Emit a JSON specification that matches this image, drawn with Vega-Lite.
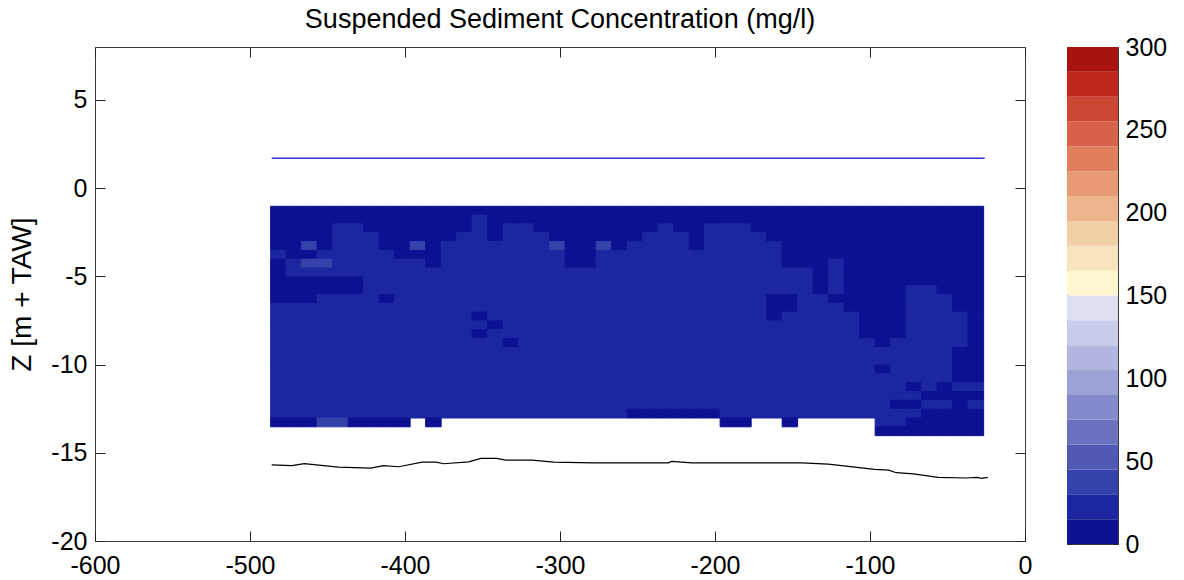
{
"$schema":"https://vega.github.io/schema/vega-lite/v6.json",
"autosize":{"type":"pad"},
"padding":{"left":8,"top":5,"right":0,"bottom":0},
"background":"white",
"spacing":33,
"config":{
 "font":"Liberation Sans",
 "view":{"stroke":"#3c3c3c","strokeWidth":1},
 "axis":{"labelFont":"Liberation Sans","labelFontSize":25,"labelColor":"#000","labelFlush":false,"tickColor":"#222","domain":false,"grid":false,"zindex":1,"titleFont":"Liberation Sans","titleFontWeight":"normal","titleColor":"#000"}
},
"datasets":{
"surf":[{"x":-486,"z":1.7},{"x":-26,"z":1.7}],
"bed":[{"x":-486,"z":-15.68},{"x":-473,"z":-15.73},{"x":-465,"z":-15.62},{"x":-443,"z":-15.81},{"x":-422,"z":-15.87},{"x":-414,"z":-15.73},{"x":-404,"z":-15.79},{"x":-389,"z":-15.53},{"x":-380,"z":-15.53},{"x":-375,"z":-15.62},{"x":-359,"z":-15.51},{"x":-351,"z":-15.32},{"x":-341,"z":-15.32},{"x":-335,"z":-15.42},{"x":-318,"z":-15.42},{"x":-304,"z":-15.53},{"x":-278,"z":-15.57},{"x":-230,"z":-15.57},{"x":-228,"z":-15.49},{"x":-215,"z":-15.57},{"x":-144,"z":-15.57},{"x":-127,"z":-15.64},{"x":-114,"z":-15.77},{"x":-97,"z":-15.94},{"x":-88,"z":-15.98},{"x":-83,"z":-16.13},{"x":-72,"z":-16.19},{"x":-56,"z":-16.39},{"x":-38,"z":-16.43},{"x":-31,"z":-16.39},{"x":-28,"z":-16.45},{"x":-24,"z":-16.39}],
"bar":[{"lo":0,"hi":15,"c":7.5},{"lo":15,"hi":30,"c":22.5},{"lo":30,"hi":45,"c":37.5},{"lo":45,"hi":60,"c":52.5},{"lo":60,"hi":75,"c":67.5},{"lo":75,"hi":90,"c":82.5},{"lo":90,"hi":105,"c":97.5},{"lo":105,"hi":120,"c":112.5},{"lo":120,"hi":135,"c":127.5},{"lo":135,"hi":150,"c":142.5},{"lo":150,"hi":165,"c":157.5},{"lo":165,"hi":180,"c":172.5},{"lo":180,"hi":195,"c":187.5},{"lo":195,"hi":210,"c":202.5},{"lo":210,"hi":225,"c":217.5},{"lo":225,"hi":240,"c":232.5},{"lo":240,"hi":255,"c":247.5},{"lo":255,"hi":270,"c":262.5},{"lo":270,"hi":285,"c":277.5},{"lo":285,"hi":300,"c":292.5}],
"grid":[
{"x":-487,"z":-1.5,"v":8},{"x":-487,"z":-2,"v":8},{"x":-487,"z":-2.5,"v":8},{"x":-487,"z":-3,"v":8},{"x":-487,"z":-3.5,"v":8},{"x":-487,"z":-4,"v":22},{"x":-487,"z":-4.5,"v":8},{"x":-487,"z":-5,"v":8},{"x":-487,"z":-5.5,"v":8},{"x":-487,"z":-6,"v":8},{"x":-487,"z":-6.5,"v":8},{"x":-487,"z":-7,"v":22},{"x":-487,"z":-7.5,"v":22},{"x":-487,"z":-8,"v":22},{"x":-487,"z":-8.5,"v":22},{"x":-487,"z":-9,"v":22},{"x":-487,"z":-9.5,"v":22},{"x":-487,"z":-10,"v":22},{"x":-487,"z":-10.5,"v":22},{"x":-487,"z":-11,"v":22},{"x":-487,"z":-11.5,"v":22},{"x":-487,"z":-12,"v":22},{"x":-487,"z":-12.5,"v":22},{"x":-487,"z":-13,"v":22},{"x":-487,"z":-13.5,"v":8},
{"x":-477,"z":-1.5,"v":8},{"x":-477,"z":-2,"v":8},{"x":-477,"z":-2.5,"v":8},{"x":-477,"z":-3,"v":8},{"x":-477,"z":-3.5,"v":8},{"x":-477,"z":-4,"v":8},{"x":-477,"z":-4.5,"v":22},{"x":-477,"z":-5,"v":22},{"x":-477,"z":-5.5,"v":8},{"x":-477,"z":-6,"v":8},{"x":-477,"z":-6.5,"v":8},{"x":-477,"z":-7,"v":22},{"x":-477,"z":-7.5,"v":22},{"x":-477,"z":-8,"v":22},{"x":-477,"z":-8.5,"v":22},{"x":-477,"z":-9,"v":22},{"x":-477,"z":-9.5,"v":22},{"x":-477,"z":-10,"v":22},{"x":-477,"z":-10.5,"v":22},{"x":-477,"z":-11,"v":22},{"x":-477,"z":-11.5,"v":22},{"x":-477,"z":-12,"v":22},{"x":-477,"z":-12.5,"v":22},{"x":-477,"z":-13,"v":22},{"x":-477,"z":-13.5,"v":8},
{"x":-467,"z":-1.5,"v":8},{"x":-467,"z":-2,"v":8},{"x":-467,"z":-2.5,"v":8},{"x":-467,"z":-3,"v":8},{"x":-467,"z":-3.5,"v":35},{"x":-467,"z":-4,"v":8},{"x":-467,"z":-4.5,"v":35},{"x":-467,"z":-5,"v":22},{"x":-467,"z":-5.5,"v":8},{"x":-467,"z":-6,"v":8},{"x":-467,"z":-6.5,"v":8},{"x":-467,"z":-7,"v":22},{"x":-467,"z":-7.5,"v":22},{"x":-467,"z":-8,"v":22},{"x":-467,"z":-8.5,"v":22},{"x":-467,"z":-9,"v":22},{"x":-467,"z":-9.5,"v":22},{"x":-467,"z":-10,"v":22},{"x":-467,"z":-10.5,"v":22},{"x":-467,"z":-11,"v":22},{"x":-467,"z":-11.5,"v":22},{"x":-467,"z":-12,"v":22},{"x":-467,"z":-12.5,"v":22},{"x":-467,"z":-13,"v":22},{"x":-467,"z":-13.5,"v":8},
{"x":-457,"z":-1.5,"v":8},{"x":-457,"z":-2,"v":8},{"x":-457,"z":-2.5,"v":8},{"x":-457,"z":-3,"v":8},{"x":-457,"z":-3.5,"v":8},{"x":-457,"z":-4,"v":22},{"x":-457,"z":-4.5,"v":35},{"x":-457,"z":-5,"v":22},{"x":-457,"z":-5.5,"v":8},{"x":-457,"z":-6,"v":8},{"x":-457,"z":-6.5,"v":22},{"x":-457,"z":-7,"v":22},{"x":-457,"z":-7.5,"v":22},{"x":-457,"z":-8,"v":22},{"x":-457,"z":-8.5,"v":22},{"x":-457,"z":-9,"v":22},{"x":-457,"z":-9.5,"v":22},{"x":-457,"z":-10,"v":22},{"x":-457,"z":-10.5,"v":22},{"x":-457,"z":-11,"v":22},{"x":-457,"z":-11.5,"v":22},{"x":-457,"z":-12,"v":22},{"x":-457,"z":-12.5,"v":22},{"x":-457,"z":-13,"v":22},{"x":-457,"z":-13.5,"v":35},
{"x":-447,"z":-1.5,"v":8},{"x":-447,"z":-2,"v":8},{"x":-447,"z":-2.5,"v":22},{"x":-447,"z":-3,"v":22},{"x":-447,"z":-3.5,"v":22},{"x":-447,"z":-4,"v":22},{"x":-447,"z":-4.5,"v":22},{"x":-447,"z":-5,"v":22},{"x":-447,"z":-5.5,"v":8},{"x":-447,"z":-6,"v":8},{"x":-447,"z":-6.5,"v":22},{"x":-447,"z":-7,"v":22},{"x":-447,"z":-7.5,"v":22},{"x":-447,"z":-8,"v":22},{"x":-447,"z":-8.5,"v":22},{"x":-447,"z":-9,"v":22},{"x":-447,"z":-9.5,"v":22},{"x":-447,"z":-10,"v":22},{"x":-447,"z":-10.5,"v":22},{"x":-447,"z":-11,"v":22},{"x":-447,"z":-11.5,"v":22},{"x":-447,"z":-12,"v":22},{"x":-447,"z":-12.5,"v":22},{"x":-447,"z":-13,"v":22},{"x":-447,"z":-13.5,"v":35},
{"x":-437,"z":-1.5,"v":8},{"x":-437,"z":-2,"v":8},{"x":-437,"z":-2.5,"v":22},{"x":-437,"z":-3,"v":22},{"x":-437,"z":-3.5,"v":22},{"x":-437,"z":-4,"v":22},{"x":-437,"z":-4.5,"v":22},{"x":-437,"z":-5,"v":22},{"x":-437,"z":-5.5,"v":8},{"x":-437,"z":-6,"v":8},{"x":-437,"z":-6.5,"v":22},{"x":-437,"z":-7,"v":22},{"x":-437,"z":-7.5,"v":22},{"x":-437,"z":-8,"v":22},{"x":-437,"z":-8.5,"v":22},{"x":-437,"z":-9,"v":22},{"x":-437,"z":-9.5,"v":22},{"x":-437,"z":-10,"v":22},{"x":-437,"z":-10.5,"v":22},{"x":-437,"z":-11,"v":22},{"x":-437,"z":-11.5,"v":22},{"x":-437,"z":-12,"v":22},{"x":-437,"z":-12.5,"v":22},{"x":-437,"z":-13,"v":22},{"x":-437,"z":-13.5,"v":8},
{"x":-427,"z":-1.5,"v":8},{"x":-427,"z":-2,"v":8},{"x":-427,"z":-2.5,"v":8},{"x":-427,"z":-3,"v":22},{"x":-427,"z":-3.5,"v":22},{"x":-427,"z":-4,"v":22},{"x":-427,"z":-4.5,"v":22},{"x":-427,"z":-5,"v":22},{"x":-427,"z":-5.5,"v":22},{"x":-427,"z":-6,"v":22},{"x":-427,"z":-6.5,"v":22},{"x":-427,"z":-7,"v":22},{"x":-427,"z":-7.5,"v":22},{"x":-427,"z":-8,"v":22},{"x":-427,"z":-8.5,"v":22},{"x":-427,"z":-9,"v":22},{"x":-427,"z":-9.5,"v":22},{"x":-427,"z":-10,"v":22},{"x":-427,"z":-10.5,"v":22},{"x":-427,"z":-11,"v":22},{"x":-427,"z":-11.5,"v":22},{"x":-427,"z":-12,"v":22},{"x":-427,"z":-12.5,"v":22},{"x":-427,"z":-13,"v":22},{"x":-427,"z":-13.5,"v":8},
{"x":-417,"z":-1.5,"v":8},{"x":-417,"z":-2,"v":8},{"x":-417,"z":-2.5,"v":8},{"x":-417,"z":-3,"v":8},{"x":-417,"z":-3.5,"v":8},{"x":-417,"z":-4,"v":22},{"x":-417,"z":-4.5,"v":22},{"x":-417,"z":-5,"v":22},{"x":-417,"z":-5.5,"v":22},{"x":-417,"z":-6,"v":22},{"x":-417,"z":-6.5,"v":8},{"x":-417,"z":-7,"v":22},{"x":-417,"z":-7.5,"v":22},{"x":-417,"z":-8,"v":22},{"x":-417,"z":-8.5,"v":22},{"x":-417,"z":-9,"v":22},{"x":-417,"z":-9.5,"v":22},{"x":-417,"z":-10,"v":22},{"x":-417,"z":-10.5,"v":22},{"x":-417,"z":-11,"v":22},{"x":-417,"z":-11.5,"v":22},{"x":-417,"z":-12,"v":22},{"x":-417,"z":-12.5,"v":22},{"x":-417,"z":-13,"v":22},{"x":-417,"z":-13.5,"v":8},
{"x":-407,"z":-1.5,"v":8},{"x":-407,"z":-2,"v":8},{"x":-407,"z":-2.5,"v":8},{"x":-407,"z":-3,"v":8},{"x":-407,"z":-3.5,"v":8},{"x":-407,"z":-4,"v":8},{"x":-407,"z":-4.5,"v":22},{"x":-407,"z":-5,"v":22},{"x":-407,"z":-5.5,"v":22},{"x":-407,"z":-6,"v":22},{"x":-407,"z":-6.5,"v":22},{"x":-407,"z":-7,"v":22},{"x":-407,"z":-7.5,"v":22},{"x":-407,"z":-8,"v":22},{"x":-407,"z":-8.5,"v":22},{"x":-407,"z":-9,"v":22},{"x":-407,"z":-9.5,"v":22},{"x":-407,"z":-10,"v":22},{"x":-407,"z":-10.5,"v":22},{"x":-407,"z":-11,"v":22},{"x":-407,"z":-11.5,"v":22},{"x":-407,"z":-12,"v":22},{"x":-407,"z":-12.5,"v":22},{"x":-407,"z":-13,"v":22},{"x":-407,"z":-13.5,"v":8},
{"x":-397,"z":-1.5,"v":8},{"x":-397,"z":-2,"v":8},{"x":-397,"z":-2.5,"v":8},{"x":-397,"z":-3,"v":8},{"x":-397,"z":-3.5,"v":35},{"x":-397,"z":-4,"v":8},{"x":-397,"z":-4.5,"v":22},{"x":-397,"z":-5,"v":22},{"x":-397,"z":-5.5,"v":22},{"x":-397,"z":-6,"v":22},{"x":-397,"z":-6.5,"v":22},{"x":-397,"z":-7,"v":22},{"x":-397,"z":-7.5,"v":22},{"x":-397,"z":-8,"v":22},{"x":-397,"z":-8.5,"v":22},{"x":-397,"z":-9,"v":22},{"x":-397,"z":-9.5,"v":22},{"x":-397,"z":-10,"v":22},{"x":-397,"z":-10.5,"v":22},{"x":-397,"z":-11,"v":22},{"x":-397,"z":-11.5,"v":22},{"x":-397,"z":-12,"v":22},{"x":-397,"z":-12.5,"v":22},{"x":-397,"z":-13,"v":22},
{"x":-387,"z":-1.5,"v":8},{"x":-387,"z":-2,"v":8},{"x":-387,"z":-2.5,"v":8},{"x":-387,"z":-3,"v":8},{"x":-387,"z":-3.5,"v":8},{"x":-387,"z":-4,"v":8},{"x":-387,"z":-4.5,"v":8},{"x":-387,"z":-5,"v":22},{"x":-387,"z":-5.5,"v":22},{"x":-387,"z":-6,"v":22},{"x":-387,"z":-6.5,"v":22},{"x":-387,"z":-7,"v":22},{"x":-387,"z":-7.5,"v":22},{"x":-387,"z":-8,"v":22},{"x":-387,"z":-8.5,"v":22},{"x":-387,"z":-9,"v":22},{"x":-387,"z":-9.5,"v":22},{"x":-387,"z":-10,"v":22},{"x":-387,"z":-10.5,"v":22},{"x":-387,"z":-11,"v":22},{"x":-387,"z":-11.5,"v":22},{"x":-387,"z":-12,"v":22},{"x":-387,"z":-12.5,"v":22},{"x":-387,"z":-13,"v":22},{"x":-387,"z":-13.5,"v":8},
{"x":-377,"z":-1.5,"v":8},{"x":-377,"z":-2,"v":8},{"x":-377,"z":-2.5,"v":8},{"x":-377,"z":-3,"v":8},{"x":-377,"z":-3.5,"v":22},{"x":-377,"z":-4,"v":22},{"x":-377,"z":-4.5,"v":22},{"x":-377,"z":-5,"v":22},{"x":-377,"z":-5.5,"v":22},{"x":-377,"z":-6,"v":22},{"x":-377,"z":-6.5,"v":22},{"x":-377,"z":-7,"v":22},{"x":-377,"z":-7.5,"v":22},{"x":-377,"z":-8,"v":22},{"x":-377,"z":-8.5,"v":22},{"x":-377,"z":-9,"v":22},{"x":-377,"z":-9.5,"v":22},{"x":-377,"z":-10,"v":22},{"x":-377,"z":-10.5,"v":22},{"x":-377,"z":-11,"v":22},{"x":-377,"z":-11.5,"v":22},{"x":-377,"z":-12,"v":22},{"x":-377,"z":-12.5,"v":22},{"x":-377,"z":-13,"v":22},
{"x":-367,"z":-1.5,"v":8},{"x":-367,"z":-2,"v":8},{"x":-367,"z":-2.5,"v":8},{"x":-367,"z":-3,"v":22},{"x":-367,"z":-3.5,"v":22},{"x":-367,"z":-4,"v":22},{"x":-367,"z":-4.5,"v":22},{"x":-367,"z":-5,"v":22},{"x":-367,"z":-5.5,"v":22},{"x":-367,"z":-6,"v":22},{"x":-367,"z":-6.5,"v":22},{"x":-367,"z":-7,"v":22},{"x":-367,"z":-7.5,"v":22},{"x":-367,"z":-8,"v":22},{"x":-367,"z":-8.5,"v":22},{"x":-367,"z":-9,"v":22},{"x":-367,"z":-9.5,"v":22},{"x":-367,"z":-10,"v":22},{"x":-367,"z":-10.5,"v":22},{"x":-367,"z":-11,"v":22},{"x":-367,"z":-11.5,"v":22},{"x":-367,"z":-12,"v":22},{"x":-367,"z":-12.5,"v":22},{"x":-367,"z":-13,"v":22},
{"x":-357,"z":-1.5,"v":8},{"x":-357,"z":-2,"v":22},{"x":-357,"z":-2.5,"v":22},{"x":-357,"z":-3,"v":22},{"x":-357,"z":-3.5,"v":22},{"x":-357,"z":-4,"v":22},{"x":-357,"z":-4.5,"v":22},{"x":-357,"z":-5,"v":22},{"x":-357,"z":-5.5,"v":22},{"x":-357,"z":-6,"v":22},{"x":-357,"z":-6.5,"v":22},{"x":-357,"z":-7,"v":22},{"x":-357,"z":-7.5,"v":8},{"x":-357,"z":-8,"v":22},{"x":-357,"z":-8.5,"v":8},{"x":-357,"z":-9,"v":22},{"x":-357,"z":-9.5,"v":22},{"x":-357,"z":-10,"v":22},{"x":-357,"z":-10.5,"v":22},{"x":-357,"z":-11,"v":22},{"x":-357,"z":-11.5,"v":22},{"x":-357,"z":-12,"v":22},{"x":-357,"z":-12.5,"v":22},{"x":-357,"z":-13,"v":22},
{"x":-347,"z":-1.5,"v":8},{"x":-347,"z":-2,"v":8},{"x":-347,"z":-2.5,"v":8},{"x":-347,"z":-3,"v":8},{"x":-347,"z":-3.5,"v":22},{"x":-347,"z":-4,"v":22},{"x":-347,"z":-4.5,"v":22},{"x":-347,"z":-5,"v":22},{"x":-347,"z":-5.5,"v":22},{"x":-347,"z":-6,"v":22},{"x":-347,"z":-6.5,"v":22},{"x":-347,"z":-7,"v":22},{"x":-347,"z":-7.5,"v":22},{"x":-347,"z":-8,"v":8},{"x":-347,"z":-8.5,"v":22},{"x":-347,"z":-9,"v":22},{"x":-347,"z":-9.5,"v":22},{"x":-347,"z":-10,"v":22},{"x":-347,"z":-10.5,"v":22},{"x":-347,"z":-11,"v":22},{"x":-347,"z":-11.5,"v":22},{"x":-347,"z":-12,"v":22},{"x":-347,"z":-12.5,"v":22},{"x":-347,"z":-13,"v":22},
{"x":-337,"z":-1.5,"v":8},{"x":-337,"z":-2,"v":8},{"x":-337,"z":-2.5,"v":22},{"x":-337,"z":-3,"v":22},{"x":-337,"z":-3.5,"v":22},{"x":-337,"z":-4,"v":22},{"x":-337,"z":-4.5,"v":22},{"x":-337,"z":-5,"v":22},{"x":-337,"z":-5.5,"v":22},{"x":-337,"z":-6,"v":22},{"x":-337,"z":-6.5,"v":22},{"x":-337,"z":-7,"v":22},{"x":-337,"z":-7.5,"v":22},{"x":-337,"z":-8,"v":22},{"x":-337,"z":-8.5,"v":22},{"x":-337,"z":-9,"v":8},{"x":-337,"z":-9.5,"v":22},{"x":-337,"z":-10,"v":22},{"x":-337,"z":-10.5,"v":22},{"x":-337,"z":-11,"v":22},{"x":-337,"z":-11.5,"v":22},{"x":-337,"z":-12,"v":22},{"x":-337,"z":-12.5,"v":22},{"x":-337,"z":-13,"v":22},
{"x":-327,"z":-1.5,"v":8},{"x":-327,"z":-2,"v":8},{"x":-327,"z":-2.5,"v":22},{"x":-327,"z":-3,"v":22},{"x":-327,"z":-3.5,"v":22},{"x":-327,"z":-4,"v":22},{"x":-327,"z":-4.5,"v":22},{"x":-327,"z":-5,"v":22},{"x":-327,"z":-5.5,"v":22},{"x":-327,"z":-6,"v":22},{"x":-327,"z":-6.5,"v":22},{"x":-327,"z":-7,"v":22},{"x":-327,"z":-7.5,"v":22},{"x":-327,"z":-8,"v":22},{"x":-327,"z":-8.5,"v":22},{"x":-327,"z":-9,"v":22},{"x":-327,"z":-9.5,"v":22},{"x":-327,"z":-10,"v":22},{"x":-327,"z":-10.5,"v":22},{"x":-327,"z":-11,"v":22},{"x":-327,"z":-11.5,"v":22},{"x":-327,"z":-12,"v":22},{"x":-327,"z":-12.5,"v":22},{"x":-327,"z":-13,"v":22},
{"x":-317,"z":-1.5,"v":8},{"x":-317,"z":-2,"v":8},{"x":-317,"z":-2.5,"v":8},{"x":-317,"z":-3,"v":22},{"x":-317,"z":-3.5,"v":22},{"x":-317,"z":-4,"v":22},{"x":-317,"z":-4.5,"v":22},{"x":-317,"z":-5,"v":22},{"x":-317,"z":-5.5,"v":22},{"x":-317,"z":-6,"v":22},{"x":-317,"z":-6.5,"v":22},{"x":-317,"z":-7,"v":22},{"x":-317,"z":-7.5,"v":22},{"x":-317,"z":-8,"v":22},{"x":-317,"z":-8.5,"v":22},{"x":-317,"z":-9,"v":22},{"x":-317,"z":-9.5,"v":22},{"x":-317,"z":-10,"v":22},{"x":-317,"z":-10.5,"v":22},{"x":-317,"z":-11,"v":22},{"x":-317,"z":-11.5,"v":22},{"x":-317,"z":-12,"v":22},{"x":-317,"z":-12.5,"v":22},{"x":-317,"z":-13,"v":22},
{"x":-307,"z":-1.5,"v":8},{"x":-307,"z":-2,"v":8},{"x":-307,"z":-2.5,"v":8},{"x":-307,"z":-3,"v":8},{"x":-307,"z":-3.5,"v":35},{"x":-307,"z":-4,"v":22},{"x":-307,"z":-4.5,"v":22},{"x":-307,"z":-5,"v":22},{"x":-307,"z":-5.5,"v":22},{"x":-307,"z":-6,"v":22},{"x":-307,"z":-6.5,"v":22},{"x":-307,"z":-7,"v":22},{"x":-307,"z":-7.5,"v":22},{"x":-307,"z":-8,"v":22},{"x":-307,"z":-8.5,"v":22},{"x":-307,"z":-9,"v":22},{"x":-307,"z":-9.5,"v":22},{"x":-307,"z":-10,"v":22},{"x":-307,"z":-10.5,"v":22},{"x":-307,"z":-11,"v":22},{"x":-307,"z":-11.5,"v":22},{"x":-307,"z":-12,"v":22},{"x":-307,"z":-12.5,"v":22},{"x":-307,"z":-13,"v":22},
{"x":-297,"z":-1.5,"v":8},{"x":-297,"z":-2,"v":8},{"x":-297,"z":-2.5,"v":8},{"x":-297,"z":-3,"v":8},{"x":-297,"z":-3.5,"v":8},{"x":-297,"z":-4,"v":8},{"x":-297,"z":-4.5,"v":8},{"x":-297,"z":-5,"v":22},{"x":-297,"z":-5.5,"v":22},{"x":-297,"z":-6,"v":22},{"x":-297,"z":-6.5,"v":22},{"x":-297,"z":-7,"v":22},{"x":-297,"z":-7.5,"v":22},{"x":-297,"z":-8,"v":22},{"x":-297,"z":-8.5,"v":22},{"x":-297,"z":-9,"v":22},{"x":-297,"z":-9.5,"v":22},{"x":-297,"z":-10,"v":22},{"x":-297,"z":-10.5,"v":22},{"x":-297,"z":-11,"v":22},{"x":-297,"z":-11.5,"v":22},{"x":-297,"z":-12,"v":22},{"x":-297,"z":-12.5,"v":22},{"x":-297,"z":-13,"v":22},
{"x":-287,"z":-1.5,"v":8},{"x":-287,"z":-2,"v":8},{"x":-287,"z":-2.5,"v":8},{"x":-287,"z":-3,"v":8},{"x":-287,"z":-3.5,"v":8},{"x":-287,"z":-4,"v":8},{"x":-287,"z":-4.5,"v":8},{"x":-287,"z":-5,"v":22},{"x":-287,"z":-5.5,"v":22},{"x":-287,"z":-6,"v":22},{"x":-287,"z":-6.5,"v":22},{"x":-287,"z":-7,"v":22},{"x":-287,"z":-7.5,"v":22},{"x":-287,"z":-8,"v":22},{"x":-287,"z":-8.5,"v":22},{"x":-287,"z":-9,"v":22},{"x":-287,"z":-9.5,"v":22},{"x":-287,"z":-10,"v":22},{"x":-287,"z":-10.5,"v":22},{"x":-287,"z":-11,"v":22},{"x":-287,"z":-11.5,"v":22},{"x":-287,"z":-12,"v":22},{"x":-287,"z":-12.5,"v":22},{"x":-287,"z":-13,"v":22},
{"x":-277,"z":-1.5,"v":8},{"x":-277,"z":-2,"v":8},{"x":-277,"z":-2.5,"v":8},{"x":-277,"z":-3,"v":8},{"x":-277,"z":-3.5,"v":35},{"x":-277,"z":-4,"v":22},{"x":-277,"z":-4.5,"v":22},{"x":-277,"z":-5,"v":22},{"x":-277,"z":-5.5,"v":22},{"x":-277,"z":-6,"v":22},{"x":-277,"z":-6.5,"v":22},{"x":-277,"z":-7,"v":22},{"x":-277,"z":-7.5,"v":22},{"x":-277,"z":-8,"v":22},{"x":-277,"z":-8.5,"v":22},{"x":-277,"z":-9,"v":22},{"x":-277,"z":-9.5,"v":22},{"x":-277,"z":-10,"v":22},{"x":-277,"z":-10.5,"v":22},{"x":-277,"z":-11,"v":22},{"x":-277,"z":-11.5,"v":22},{"x":-277,"z":-12,"v":22},{"x":-277,"z":-12.5,"v":22},{"x":-277,"z":-13,"v":22},
{"x":-267,"z":-1.5,"v":8},{"x":-267,"z":-2,"v":8},{"x":-267,"z":-2.5,"v":8},{"x":-267,"z":-3,"v":8},{"x":-267,"z":-3.5,"v":8},{"x":-267,"z":-4,"v":22},{"x":-267,"z":-4.5,"v":22},{"x":-267,"z":-5,"v":22},{"x":-267,"z":-5.5,"v":22},{"x":-267,"z":-6,"v":22},{"x":-267,"z":-6.5,"v":22},{"x":-267,"z":-7,"v":22},{"x":-267,"z":-7.5,"v":22},{"x":-267,"z":-8,"v":22},{"x":-267,"z":-8.5,"v":22},{"x":-267,"z":-9,"v":22},{"x":-267,"z":-9.5,"v":22},{"x":-267,"z":-10,"v":22},{"x":-267,"z":-10.5,"v":22},{"x":-267,"z":-11,"v":22},{"x":-267,"z":-11.5,"v":22},{"x":-267,"z":-12,"v":22},{"x":-267,"z":-12.5,"v":22},{"x":-267,"z":-13,"v":22},
{"x":-257,"z":-1.5,"v":8},{"x":-257,"z":-2,"v":8},{"x":-257,"z":-2.5,"v":8},{"x":-257,"z":-3,"v":8},{"x":-257,"z":-3.5,"v":22},{"x":-257,"z":-4,"v":22},{"x":-257,"z":-4.5,"v":22},{"x":-257,"z":-5,"v":22},{"x":-257,"z":-5.5,"v":22},{"x":-257,"z":-6,"v":22},{"x":-257,"z":-6.5,"v":22},{"x":-257,"z":-7,"v":22},{"x":-257,"z":-7.5,"v":22},{"x":-257,"z":-8,"v":22},{"x":-257,"z":-8.5,"v":22},{"x":-257,"z":-9,"v":22},{"x":-257,"z":-9.5,"v":22},{"x":-257,"z":-10,"v":22},{"x":-257,"z":-10.5,"v":22},{"x":-257,"z":-11,"v":22},{"x":-257,"z":-11.5,"v":22},{"x":-257,"z":-12,"v":22},{"x":-257,"z":-12.5,"v":22},{"x":-257,"z":-13,"v":8},
{"x":-247,"z":-1.5,"v":8},{"x":-247,"z":-2,"v":8},{"x":-247,"z":-2.5,"v":8},{"x":-247,"z":-3,"v":22},{"x":-247,"z":-3.5,"v":22},{"x":-247,"z":-4,"v":22},{"x":-247,"z":-4.5,"v":22},{"x":-247,"z":-5,"v":22},{"x":-247,"z":-5.5,"v":22},{"x":-247,"z":-6,"v":22},{"x":-247,"z":-6.5,"v":22},{"x":-247,"z":-7,"v":22},{"x":-247,"z":-7.5,"v":22},{"x":-247,"z":-8,"v":22},{"x":-247,"z":-8.5,"v":22},{"x":-247,"z":-9,"v":22},{"x":-247,"z":-9.5,"v":22},{"x":-247,"z":-10,"v":22},{"x":-247,"z":-10.5,"v":22},{"x":-247,"z":-11,"v":22},{"x":-247,"z":-11.5,"v":22},{"x":-247,"z":-12,"v":22},{"x":-247,"z":-12.5,"v":22},{"x":-247,"z":-13,"v":8},
{"x":-237,"z":-1.5,"v":8},{"x":-237,"z":-2,"v":8},{"x":-237,"z":-2.5,"v":22},{"x":-237,"z":-3,"v":22},{"x":-237,"z":-3.5,"v":22},{"x":-237,"z":-4,"v":22},{"x":-237,"z":-4.5,"v":22},{"x":-237,"z":-5,"v":22},{"x":-237,"z":-5.5,"v":22},{"x":-237,"z":-6,"v":22},{"x":-237,"z":-6.5,"v":22},{"x":-237,"z":-7,"v":22},{"x":-237,"z":-7.5,"v":22},{"x":-237,"z":-8,"v":22},{"x":-237,"z":-8.5,"v":22},{"x":-237,"z":-9,"v":22},{"x":-237,"z":-9.5,"v":22},{"x":-237,"z":-10,"v":22},{"x":-237,"z":-10.5,"v":22},{"x":-237,"z":-11,"v":22},{"x":-237,"z":-11.5,"v":22},{"x":-237,"z":-12,"v":22},{"x":-237,"z":-12.5,"v":22},{"x":-237,"z":-13,"v":8},
{"x":-227,"z":-1.5,"v":8},{"x":-227,"z":-2,"v":8},{"x":-227,"z":-2.5,"v":8},{"x":-227,"z":-3,"v":22},{"x":-227,"z":-3.5,"v":22},{"x":-227,"z":-4,"v":22},{"x":-227,"z":-4.5,"v":22},{"x":-227,"z":-5,"v":22},{"x":-227,"z":-5.5,"v":22},{"x":-227,"z":-6,"v":22},{"x":-227,"z":-6.5,"v":22},{"x":-227,"z":-7,"v":22},{"x":-227,"z":-7.5,"v":22},{"x":-227,"z":-8,"v":22},{"x":-227,"z":-8.5,"v":22},{"x":-227,"z":-9,"v":22},{"x":-227,"z":-9.5,"v":22},{"x":-227,"z":-10,"v":22},{"x":-227,"z":-10.5,"v":22},{"x":-227,"z":-11,"v":22},{"x":-227,"z":-11.5,"v":22},{"x":-227,"z":-12,"v":22},{"x":-227,"z":-12.5,"v":22},{"x":-227,"z":-13,"v":8},
{"x":-217,"z":-1.5,"v":8},{"x":-217,"z":-2,"v":8},{"x":-217,"z":-2.5,"v":8},{"x":-217,"z":-3,"v":8},{"x":-217,"z":-3.5,"v":8},{"x":-217,"z":-4,"v":22},{"x":-217,"z":-4.5,"v":22},{"x":-217,"z":-5,"v":22},{"x":-217,"z":-5.5,"v":22},{"x":-217,"z":-6,"v":22},{"x":-217,"z":-6.5,"v":22},{"x":-217,"z":-7,"v":22},{"x":-217,"z":-7.5,"v":22},{"x":-217,"z":-8,"v":22},{"x":-217,"z":-8.5,"v":22},{"x":-217,"z":-9,"v":22},{"x":-217,"z":-9.5,"v":22},{"x":-217,"z":-10,"v":22},{"x":-217,"z":-10.5,"v":22},{"x":-217,"z":-11,"v":22},{"x":-217,"z":-11.5,"v":22},{"x":-217,"z":-12,"v":22},{"x":-217,"z":-12.5,"v":22},{"x":-217,"z":-13,"v":8},
{"x":-207,"z":-1.5,"v":8},{"x":-207,"z":-2,"v":8},{"x":-207,"z":-2.5,"v":22},{"x":-207,"z":-3,"v":22},{"x":-207,"z":-3.5,"v":22},{"x":-207,"z":-4,"v":22},{"x":-207,"z":-4.5,"v":22},{"x":-207,"z":-5,"v":22},{"x":-207,"z":-5.5,"v":22},{"x":-207,"z":-6,"v":22},{"x":-207,"z":-6.5,"v":22},{"x":-207,"z":-7,"v":22},{"x":-207,"z":-7.5,"v":22},{"x":-207,"z":-8,"v":22},{"x":-207,"z":-8.5,"v":22},{"x":-207,"z":-9,"v":22},{"x":-207,"z":-9.5,"v":22},{"x":-207,"z":-10,"v":22},{"x":-207,"z":-10.5,"v":22},{"x":-207,"z":-11,"v":22},{"x":-207,"z":-11.5,"v":22},{"x":-207,"z":-12,"v":22},{"x":-207,"z":-12.5,"v":22},{"x":-207,"z":-13,"v":8},
{"x":-197,"z":-1.5,"v":8},{"x":-197,"z":-2,"v":8},{"x":-197,"z":-2.5,"v":22},{"x":-197,"z":-3,"v":22},{"x":-197,"z":-3.5,"v":22},{"x":-197,"z":-4,"v":22},{"x":-197,"z":-4.5,"v":22},{"x":-197,"z":-5,"v":22},{"x":-197,"z":-5.5,"v":22},{"x":-197,"z":-6,"v":22},{"x":-197,"z":-6.5,"v":22},{"x":-197,"z":-7,"v":22},{"x":-197,"z":-7.5,"v":22},{"x":-197,"z":-8,"v":22},{"x":-197,"z":-8.5,"v":22},{"x":-197,"z":-9,"v":22},{"x":-197,"z":-9.5,"v":22},{"x":-197,"z":-10,"v":22},{"x":-197,"z":-10.5,"v":22},{"x":-197,"z":-11,"v":22},{"x":-197,"z":-11.5,"v":22},{"x":-197,"z":-12,"v":22},{"x":-197,"z":-12.5,"v":22},{"x":-197,"z":-13,"v":22},{"x":-197,"z":-13.5,"v":8},
{"x":-187,"z":-1.5,"v":8},{"x":-187,"z":-2,"v":8},{"x":-187,"z":-2.5,"v":22},{"x":-187,"z":-3,"v":22},{"x":-187,"z":-3.5,"v":22},{"x":-187,"z":-4,"v":22},{"x":-187,"z":-4.5,"v":22},{"x":-187,"z":-5,"v":22},{"x":-187,"z":-5.5,"v":22},{"x":-187,"z":-6,"v":22},{"x":-187,"z":-6.5,"v":22},{"x":-187,"z":-7,"v":22},{"x":-187,"z":-7.5,"v":22},{"x":-187,"z":-8,"v":22},{"x":-187,"z":-8.5,"v":22},{"x":-187,"z":-9,"v":22},{"x":-187,"z":-9.5,"v":22},{"x":-187,"z":-10,"v":22},{"x":-187,"z":-10.5,"v":22},{"x":-187,"z":-11,"v":22},{"x":-187,"z":-11.5,"v":22},{"x":-187,"z":-12,"v":22},{"x":-187,"z":-12.5,"v":22},{"x":-187,"z":-13,"v":22},{"x":-187,"z":-13.5,"v":8},
{"x":-177,"z":-1.5,"v":8},{"x":-177,"z":-2,"v":8},{"x":-177,"z":-2.5,"v":8},{"x":-177,"z":-3,"v":22},{"x":-177,"z":-3.5,"v":22},{"x":-177,"z":-4,"v":22},{"x":-177,"z":-4.5,"v":22},{"x":-177,"z":-5,"v":22},{"x":-177,"z":-5.5,"v":22},{"x":-177,"z":-6,"v":22},{"x":-177,"z":-6.5,"v":22},{"x":-177,"z":-7,"v":22},{"x":-177,"z":-7.5,"v":22},{"x":-177,"z":-8,"v":22},{"x":-177,"z":-8.5,"v":22},{"x":-177,"z":-9,"v":22},{"x":-177,"z":-9.5,"v":22},{"x":-177,"z":-10,"v":22},{"x":-177,"z":-10.5,"v":22},{"x":-177,"z":-11,"v":22},{"x":-177,"z":-11.5,"v":22},{"x":-177,"z":-12,"v":22},{"x":-177,"z":-12.5,"v":22},{"x":-177,"z":-13,"v":22},
{"x":-167,"z":-1.5,"v":8},{"x":-167,"z":-2,"v":8},{"x":-167,"z":-2.5,"v":8},{"x":-167,"z":-3,"v":8},{"x":-167,"z":-3.5,"v":22},{"x":-167,"z":-4,"v":22},{"x":-167,"z":-4.5,"v":22},{"x":-167,"z":-5,"v":22},{"x":-167,"z":-5.5,"v":22},{"x":-167,"z":-6,"v":22},{"x":-167,"z":-6.5,"v":8},{"x":-167,"z":-7,"v":8},{"x":-167,"z":-7.5,"v":8},{"x":-167,"z":-8,"v":22},{"x":-167,"z":-8.5,"v":22},{"x":-167,"z":-9,"v":22},{"x":-167,"z":-9.5,"v":22},{"x":-167,"z":-10,"v":22},{"x":-167,"z":-10.5,"v":22},{"x":-167,"z":-11,"v":22},{"x":-167,"z":-11.5,"v":22},{"x":-167,"z":-12,"v":22},{"x":-167,"z":-12.5,"v":22},{"x":-167,"z":-13,"v":22},
{"x":-157,"z":-1.5,"v":8},{"x":-157,"z":-2,"v":8},{"x":-157,"z":-2.5,"v":8},{"x":-157,"z":-3,"v":8},{"x":-157,"z":-3.5,"v":8},{"x":-157,"z":-4,"v":8},{"x":-157,"z":-4.5,"v":8},{"x":-157,"z":-5,"v":22},{"x":-157,"z":-5.5,"v":22},{"x":-157,"z":-6,"v":22},{"x":-157,"z":-6.5,"v":8},{"x":-157,"z":-7,"v":8},{"x":-157,"z":-7.5,"v":22},{"x":-157,"z":-8,"v":22},{"x":-157,"z":-8.5,"v":22},{"x":-157,"z":-9,"v":22},{"x":-157,"z":-9.5,"v":22},{"x":-157,"z":-10,"v":22},{"x":-157,"z":-10.5,"v":22},{"x":-157,"z":-11,"v":22},{"x":-157,"z":-11.5,"v":22},{"x":-157,"z":-12,"v":22},{"x":-157,"z":-12.5,"v":22},{"x":-157,"z":-13,"v":22},{"x":-157,"z":-13.5,"v":8},
{"x":-147,"z":-1.5,"v":8},{"x":-147,"z":-2,"v":8},{"x":-147,"z":-2.5,"v":8},{"x":-147,"z":-3,"v":8},{"x":-147,"z":-3.5,"v":8},{"x":-147,"z":-4,"v":8},{"x":-147,"z":-4.5,"v":8},{"x":-147,"z":-5,"v":22},{"x":-147,"z":-5.5,"v":22},{"x":-147,"z":-6,"v":22},{"x":-147,"z":-6.5,"v":22},{"x":-147,"z":-7,"v":22},{"x":-147,"z":-7.5,"v":22},{"x":-147,"z":-8,"v":22},{"x":-147,"z":-8.5,"v":22},{"x":-147,"z":-9,"v":22},{"x":-147,"z":-9.5,"v":22},{"x":-147,"z":-10,"v":22},{"x":-147,"z":-10.5,"v":22},{"x":-147,"z":-11,"v":22},{"x":-147,"z":-11.5,"v":22},{"x":-147,"z":-12,"v":22},{"x":-147,"z":-12.5,"v":22},{"x":-147,"z":-13,"v":22},
{"x":-137,"z":-1.5,"v":8},{"x":-137,"z":-2,"v":8},{"x":-137,"z":-2.5,"v":8},{"x":-137,"z":-3,"v":8},{"x":-137,"z":-3.5,"v":8},{"x":-137,"z":-4,"v":8},{"x":-137,"z":-4.5,"v":8},{"x":-137,"z":-5,"v":8},{"x":-137,"z":-5.5,"v":8},{"x":-137,"z":-6,"v":8},{"x":-137,"z":-6.5,"v":22},{"x":-137,"z":-7,"v":22},{"x":-137,"z":-7.5,"v":22},{"x":-137,"z":-8,"v":22},{"x":-137,"z":-8.5,"v":22},{"x":-137,"z":-9,"v":22},{"x":-137,"z":-9.5,"v":22},{"x":-137,"z":-10,"v":22},{"x":-137,"z":-10.5,"v":22},{"x":-137,"z":-11,"v":22},{"x":-137,"z":-11.5,"v":22},{"x":-137,"z":-12,"v":22},{"x":-137,"z":-12.5,"v":22},{"x":-137,"z":-13,"v":22},
{"x":-127,"z":-1.5,"v":8},{"x":-127,"z":-2,"v":8},{"x":-127,"z":-2.5,"v":8},{"x":-127,"z":-3,"v":8},{"x":-127,"z":-3.5,"v":8},{"x":-127,"z":-4,"v":8},{"x":-127,"z":-4.5,"v":22},{"x":-127,"z":-5,"v":22},{"x":-127,"z":-5.5,"v":22},{"x":-127,"z":-6,"v":22},{"x":-127,"z":-6.5,"v":8},{"x":-127,"z":-7,"v":22},{"x":-127,"z":-7.5,"v":22},{"x":-127,"z":-8,"v":22},{"x":-127,"z":-8.5,"v":22},{"x":-127,"z":-9,"v":22},{"x":-127,"z":-9.5,"v":22},{"x":-127,"z":-10,"v":22},{"x":-127,"z":-10.5,"v":22},{"x":-127,"z":-11,"v":22},{"x":-127,"z":-11.5,"v":22},{"x":-127,"z":-12,"v":22},{"x":-127,"z":-12.5,"v":22},{"x":-127,"z":-13,"v":22},
{"x":-117,"z":-1.5,"v":8},{"x":-117,"z":-2,"v":8},{"x":-117,"z":-2.5,"v":8},{"x":-117,"z":-3,"v":8},{"x":-117,"z":-3.5,"v":8},{"x":-117,"z":-4,"v":8},{"x":-117,"z":-4.5,"v":8},{"x":-117,"z":-5,"v":8},{"x":-117,"z":-5.5,"v":8},{"x":-117,"z":-6,"v":8},{"x":-117,"z":-6.5,"v":8},{"x":-117,"z":-7,"v":8},{"x":-117,"z":-7.5,"v":22},{"x":-117,"z":-8,"v":22},{"x":-117,"z":-8.5,"v":22},{"x":-117,"z":-9,"v":22},{"x":-117,"z":-9.5,"v":22},{"x":-117,"z":-10,"v":22},{"x":-117,"z":-10.5,"v":22},{"x":-117,"z":-11,"v":22},{"x":-117,"z":-11.5,"v":22},{"x":-117,"z":-12,"v":22},{"x":-117,"z":-12.5,"v":22},{"x":-117,"z":-13,"v":22},
{"x":-107,"z":-1.5,"v":8},{"x":-107,"z":-2,"v":8},{"x":-107,"z":-2.5,"v":8},{"x":-107,"z":-3,"v":8},{"x":-107,"z":-3.5,"v":8},{"x":-107,"z":-4,"v":8},{"x":-107,"z":-4.5,"v":8},{"x":-107,"z":-5,"v":8},{"x":-107,"z":-5.5,"v":8},{"x":-107,"z":-6,"v":8},{"x":-107,"z":-6.5,"v":8},{"x":-107,"z":-7,"v":8},{"x":-107,"z":-7.5,"v":8},{"x":-107,"z":-8,"v":8},{"x":-107,"z":-8.5,"v":8},{"x":-107,"z":-9,"v":22},{"x":-107,"z":-9.5,"v":22},{"x":-107,"z":-10,"v":22},{"x":-107,"z":-10.5,"v":22},{"x":-107,"z":-11,"v":22},{"x":-107,"z":-11.5,"v":22},{"x":-107,"z":-12,"v":22},{"x":-107,"z":-12.5,"v":22},{"x":-107,"z":-13,"v":22},
{"x":-97,"z":-1.5,"v":8},{"x":-97,"z":-2,"v":8},{"x":-97,"z":-2.5,"v":8},{"x":-97,"z":-3,"v":8},{"x":-97,"z":-3.5,"v":8},{"x":-97,"z":-4,"v":8},{"x":-97,"z":-4.5,"v":8},{"x":-97,"z":-5,"v":8},{"x":-97,"z":-5.5,"v":8},{"x":-97,"z":-6,"v":8},{"x":-97,"z":-6.5,"v":8},{"x":-97,"z":-7,"v":8},{"x":-97,"z":-7.5,"v":8},{"x":-97,"z":-8,"v":8},{"x":-97,"z":-8.5,"v":8},{"x":-97,"z":-9,"v":8},{"x":-97,"z":-9.5,"v":22},{"x":-97,"z":-10,"v":22},{"x":-97,"z":-10.5,"v":8},{"x":-97,"z":-11,"v":22},{"x":-97,"z":-11.5,"v":22},{"x":-97,"z":-12,"v":22},{"x":-97,"z":-12.5,"v":22},{"x":-97,"z":-13,"v":22},{"x":-97,"z":-13.5,"v":22},{"x":-97,"z":-14,"v":8},
{"x":-87,"z":-1.5,"v":8},{"x":-87,"z":-2,"v":8},{"x":-87,"z":-2.5,"v":8},{"x":-87,"z":-3,"v":8},{"x":-87,"z":-3.5,"v":8},{"x":-87,"z":-4,"v":8},{"x":-87,"z":-4.5,"v":8},{"x":-87,"z":-5,"v":8},{"x":-87,"z":-5.5,"v":8},{"x":-87,"z":-6,"v":8},{"x":-87,"z":-6.5,"v":8},{"x":-87,"z":-7,"v":8},{"x":-87,"z":-7.5,"v":8},{"x":-87,"z":-8,"v":8},{"x":-87,"z":-8.5,"v":8},{"x":-87,"z":-9,"v":22},{"x":-87,"z":-9.5,"v":22},{"x":-87,"z":-10,"v":22},{"x":-87,"z":-10.5,"v":22},{"x":-87,"z":-11,"v":22},{"x":-87,"z":-11.5,"v":22},{"x":-87,"z":-12,"v":22},{"x":-87,"z":-12.5,"v":8},{"x":-87,"z":-13,"v":22},{"x":-87,"z":-13.5,"v":22},{"x":-87,"z":-14,"v":8},
{"x":-77,"z":-1.5,"v":8},{"x":-77,"z":-2,"v":8},{"x":-77,"z":-2.5,"v":8},{"x":-77,"z":-3,"v":8},{"x":-77,"z":-3.5,"v":8},{"x":-77,"z":-4,"v":8},{"x":-77,"z":-4.5,"v":8},{"x":-77,"z":-5,"v":8},{"x":-77,"z":-5.5,"v":8},{"x":-77,"z":-6,"v":22},{"x":-77,"z":-6.5,"v":22},{"x":-77,"z":-7,"v":22},{"x":-77,"z":-7.5,"v":22},{"x":-77,"z":-8,"v":22},{"x":-77,"z":-8.5,"v":22},{"x":-77,"z":-9,"v":22},{"x":-77,"z":-9.5,"v":22},{"x":-77,"z":-10,"v":22},{"x":-77,"z":-10.5,"v":22},{"x":-77,"z":-11,"v":22},{"x":-77,"z":-11.5,"v":8},{"x":-77,"z":-12,"v":22},{"x":-77,"z":-12.5,"v":8},{"x":-77,"z":-13,"v":22},{"x":-77,"z":-13.5,"v":8},{"x":-77,"z":-14,"v":8},
{"x":-67,"z":-1.5,"v":8},{"x":-67,"z":-2,"v":8},{"x":-67,"z":-2.5,"v":8},{"x":-67,"z":-3,"v":8},{"x":-67,"z":-3.5,"v":8},{"x":-67,"z":-4,"v":8},{"x":-67,"z":-4.5,"v":8},{"x":-67,"z":-5,"v":8},{"x":-67,"z":-5.5,"v":8},{"x":-67,"z":-6,"v":22},{"x":-67,"z":-6.5,"v":22},{"x":-67,"z":-7,"v":22},{"x":-67,"z":-7.5,"v":22},{"x":-67,"z":-8,"v":22},{"x":-67,"z":-8.5,"v":22},{"x":-67,"z":-9,"v":22},{"x":-67,"z":-9.5,"v":22},{"x":-67,"z":-10,"v":22},{"x":-67,"z":-10.5,"v":22},{"x":-67,"z":-11,"v":22},{"x":-67,"z":-11.5,"v":22},{"x":-67,"z":-12,"v":8},{"x":-67,"z":-12.5,"v":22},{"x":-67,"z":-13,"v":8},{"x":-67,"z":-13.5,"v":8},{"x":-67,"z":-14,"v":8},
{"x":-57,"z":-1.5,"v":8},{"x":-57,"z":-2,"v":8},{"x":-57,"z":-2.5,"v":8},{"x":-57,"z":-3,"v":8},{"x":-57,"z":-3.5,"v":8},{"x":-57,"z":-4,"v":8},{"x":-57,"z":-4.5,"v":8},{"x":-57,"z":-5,"v":8},{"x":-57,"z":-5.5,"v":8},{"x":-57,"z":-6,"v":8},{"x":-57,"z":-6.5,"v":22},{"x":-57,"z":-7,"v":22},{"x":-57,"z":-7.5,"v":22},{"x":-57,"z":-8,"v":22},{"x":-57,"z":-8.5,"v":22},{"x":-57,"z":-9,"v":22},{"x":-57,"z":-9.5,"v":22},{"x":-57,"z":-10,"v":22},{"x":-57,"z":-10.5,"v":22},{"x":-57,"z":-11,"v":22},{"x":-57,"z":-11.5,"v":8},{"x":-57,"z":-12,"v":8},{"x":-57,"z":-12.5,"v":22},{"x":-57,"z":-13,"v":8},{"x":-57,"z":-13.5,"v":8},{"x":-57,"z":-14,"v":8},
{"x":-47,"z":-1.5,"v":8},{"x":-47,"z":-2,"v":8},{"x":-47,"z":-2.5,"v":8},{"x":-47,"z":-3,"v":8},{"x":-47,"z":-3.5,"v":8},{"x":-47,"z":-4,"v":8},{"x":-47,"z":-4.5,"v":8},{"x":-47,"z":-5,"v":8},{"x":-47,"z":-5.5,"v":8},{"x":-47,"z":-6,"v":8},{"x":-47,"z":-6.5,"v":8},{"x":-47,"z":-7,"v":8},{"x":-47,"z":-7.5,"v":22},{"x":-47,"z":-8,"v":22},{"x":-47,"z":-8.5,"v":22},{"x":-47,"z":-9,"v":22},{"x":-47,"z":-9.5,"v":8},{"x":-47,"z":-10,"v":8},{"x":-47,"z":-10.5,"v":8},{"x":-47,"z":-11,"v":8},{"x":-47,"z":-11.5,"v":22},{"x":-47,"z":-12,"v":8},{"x":-47,"z":-12.5,"v":8},{"x":-47,"z":-13,"v":8},{"x":-47,"z":-13.5,"v":8},{"x":-47,"z":-14,"v":8},
{"x":-37,"z":-1.5,"v":8},{"x":-37,"z":-2,"v":8},{"x":-37,"z":-2.5,"v":8},{"x":-37,"z":-3,"v":8},{"x":-37,"z":-3.5,"v":8},{"x":-37,"z":-4,"v":8},{"x":-37,"z":-4.5,"v":8},{"x":-37,"z":-5,"v":8},{"x":-37,"z":-5.5,"v":8},{"x":-37,"z":-6,"v":8},{"x":-37,"z":-6.5,"v":8},{"x":-37,"z":-7,"v":8},{"x":-37,"z":-7.5,"v":8},{"x":-37,"z":-8,"v":8},{"x":-37,"z":-8.5,"v":8},{"x":-37,"z":-9,"v":8},{"x":-37,"z":-9.5,"v":8},{"x":-37,"z":-10,"v":8},{"x":-37,"z":-10.5,"v":8},{"x":-37,"z":-11,"v":8},{"x":-37,"z":-11.5,"v":22},{"x":-37,"z":-12,"v":8},{"x":-37,"z":-12.5,"v":22},{"x":-37,"z":-13,"v":8},{"x":-37,"z":-13.5,"v":8},{"x":-37,"z":-14,"v":8}
]},
"hconcat":[
{
 "width":930,"height":494,
 "title":{"text":"Suspended Sediment Concentration (mg/l)","fontSize":27,"fontWeight":"normal","font":"Liberation Sans","color":"#000","offset":13,"anchor":"middle"},
 "layer":[
  {"data":{"name":"grid"},
   "mark":{"type":"rect","strokeWidth":1},
   "encoding":{
    "x":{"field":"x","type":"quantitative","bin":{"binned":true,"step":10},"scale":{"domain":[-600,0],"nice":false,"zero":false},
         "axis":{"orient":"bottom","values":[-600,-500,-400,-300,-200,-100,0],"tickSize":-10,"labelPadding":22,"labelExpr":"datum.value < 0 ? '-' + abs(datum.value) : '' + datum.value","title":null}},
    "y":{"field":"z","type":"quantitative","bin":{"binned":true,"step":0.5},"scale":{"domain":[-20,8],"nice":false,"zero":false},
         "axis":{"orient":"left","values":[-20,-15,-10,-5,0,5],"tickSize":-10,"labelPadding":18,"labelExpr":"datum.value < 0 ? '-' + abs(datum.value) : '' + datum.value","title":"Z [m + TAW]","titleFontSize":28,"titlePadding":14}},
    "color":{"field":"v","type":"quantitative","scale":{"type":"quantize","domain":[0,300],"range":["#0b1190","#1c26a0","#3542ab","#5059b6","#6a72c0","#8389cb","#9ca2d6","#b2b6e0","#c8cbea","#dfe1f3","#fdf6d0","#f7e4bd","#f3cfa6","#eeb48c","#e89a74","#e07e5e","#d8634a","#cc4634","#c0281e","#a8120f"]},"legend":null},
    "stroke":{"field":"v","type":"quantitative","scale":{"type":"quantize","domain":[0,300],"range":["#0b1190","#1c26a0","#3542ab","#5059b6","#6a72c0","#8389cb","#9ca2d6","#b2b6e0","#c8cbea","#dfe1f3","#fdf6d0","#f7e4bd","#f3cfa6","#eeb48c","#e89a74","#e07e5e","#d8634a","#cc4634","#c0281e","#a8120f"]},"legend":null}
   }},
  {"data":{"name":"surf"},
   "mark":{"type":"line","color":"#3030cc","strokeWidth":1.5},
   "encoding":{
    "x":{"field":"x","type":"quantitative","axis":{"orient":"top","labels":false,"values":[-600,-500,-400,-300,-200,-100,0],"tickSize":-10,"title":null}},
    "y":{"field":"z","type":"quantitative","axis":{"orient":"right","labels":false,"values":[-20,-15,-10,-5,0,5],"tickSize":-10,"title":null}}
   }},
  {"data":{"name":"bed"},
   "mark":{"type":"line","color":"#000000","strokeWidth":1.2},
   "encoding":{
    "x":{"field":"x","type":"quantitative","axis":null},
    "y":{"field":"z","type":"quantitative","axis":null}
   }}
 ],
 "resolve":{"axis":{"x":"independent","y":"independent"}}
},
{
 "width":51,"height":497,
 "data":{"name":"bar"},
 "layer":[
  {"mark":{"type":"rect"},
   "encoding":{
    "y":{"field":"lo","type":"quantitative","scale":{"domain":[0,300],"nice":false},"axis":{"orient":"right","values":[0,50,100,150,200,250,300],"tickSize":-5,"labelPadding":12,"title":null}},
    "y2":{"field":"hi"},
    "x":{"datum":0,"type":"quantitative","scale":{"domain":[0,1]},"axis":null},
    "x2":{"datum":1},
    "color":{"field":"c","type":"quantitative","scale":{"type":"quantize","domain":[0,300],"range":["#0b1190","#1c26a0","#3542ab","#5059b6","#6a72c0","#8389cb","#9ca2d6","#b2b6e0","#c8cbea","#dfe1f3","#fdf6d0","#f7e4bd","#f3cfa6","#eeb48c","#e89a74","#e07e5e","#d8634a","#cc4634","#c0281e","#a8120f"]},"legend":null}
   }},
  {"mark":{"type":"rect","opacity":0},
   "encoding":{
    "y":{"field":"lo","type":"quantitative","axis":{"orient":"left","labels":false,"values":[0,50,100,150,200,250,300],"tickSize":-5,"title":null}},
    "y2":{"field":"hi"},
    "x":{"datum":0,"type":"quantitative"},
    "x2":{"datum":1}
   }}
 ],
 "resolve":{"axis":{"y":"independent"}}
}
]
}
